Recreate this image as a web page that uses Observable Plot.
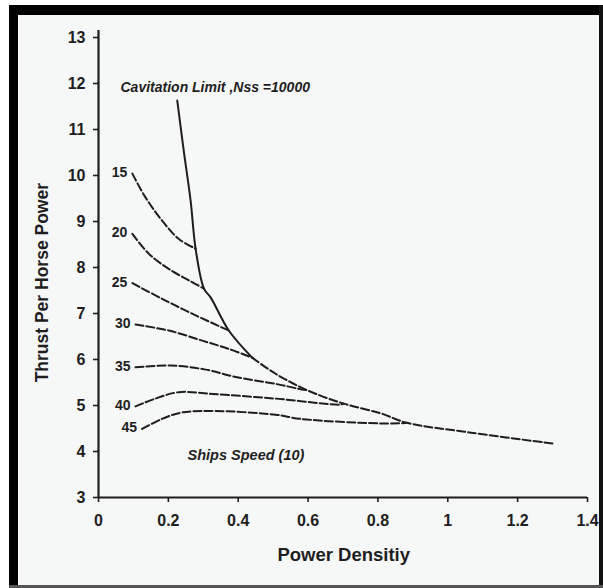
<!DOCTYPE html>
<html><head><meta charset="utf-8">
<script src="https://cdn.jsdelivr.net/npm/d3@7"></script>
<script src="https://cdn.jsdelivr.net/npm/@observablehq/plot@0.6"></script>
<style>
body{margin:0;background:#fff;}
</style></head><body>
<div id="chart"></div>
<script>
// Ship speed curves (knots): power density vs thrust per horse power
const speedLabels = [15, 20, 25, 30, 35, 40, 45];
const pd15 = [0.097, 0.134, 0.182, 0.230, 0.278];
const t15  = [10.04, 9.53, 9.02, 8.62, 8.41];
const pd20 = [0.097, 0.144, 0.201, 0.259, 0.302];
const t20  = [8.73, 8.30, 7.97, 7.72, 7.54];
const pd25 = [0.097, 0.182, 0.278, 0.373];
const t25  = [7.66, 7.32, 6.96, 6.63];
const pd30 = [0.106, 0.201, 0.297, 0.373, 0.440];
const t30  = [6.76, 6.63, 6.41, 6.23, 6.04];
const pd35 = [0.106, 0.206, 0.307, 0.393, 0.507, 0.569, 0.598];
const t35  = [5.83, 5.87, 5.78, 5.62, 5.47, 5.37, 5.33];
const pd40 = [0.106, 0.163, 0.230, 0.326, 0.507, 0.693, 0.702];
const t40  = [4.98, 5.15, 5.29, 5.25, 5.15, 5.02, 5.04];
const pd45 = [0.125, 0.182, 0.240, 0.335, 0.507, 0.577, 0.808, 0.880];
const t45  = [4.49, 4.71, 4.85, 4.88, 4.80, 4.71, 4.61, 4.62];
// Cavitation limit, Nss = 10000
const pdCav = [0.2255, 0.244, 0.2636, 0.278, 0.302, 0.321, 0.373, 0.440, 0.507, 0.598, 0.702, 0.808, 0.880, 1.066, 1.304];
const tCav  = [11.63, 10.54, 9.46, 8.41, 7.54, 7.35, 6.63, 6.04, 5.69, 5.33, 5.04, 4.83, 4.63, 4.41, 4.17];
// Axis ticks
const xTicks = [0, 0.2, 0.4, 0.6, 0.8, 1, 1.2, 1.4];
const yTicks = [3, 4, 5, 6, 7, 8, 9, 10, 11, 12, 13];
const cavSolidEnd = 0.44;

const pdAll = [pd15, pd20, pd25, pd30, pd35, pd40, pd45];
const tAll  = [t15, t20, t25, t30, t35, t40, t45];
const rows = speedLabels.flatMap((s, i) => pdAll[i].map((p, j) => ({speed: s, pd: p, t: tAll[i][j]})));
const firsts = speedLabels.map((s, i) => ({speed: String(s), pd: pdAll[i][0], t: tAll[i][0]}));
const cav = pdCav.map((p, j) => ({pd: p, t: tCav[j]}));
const cavSolid = cav.filter(d => d.pd <= cavSolidEnd);
const cavDash = cav.filter(d => d.pd >= cavSolidEnd);

const ink = "#1e1e1e";
const chart = Plot.plot({
  width: 603, height: 588,
  marginLeft: 98, marginRight: 16, marginTop: 37, marginBottom: 91,
  style: {fontFamily: "'Liberation Sans', Arial, sans-serif", fontWeight: "bold", color: ink, background: "#ffffff", overflow: "visible"},
  x: {domain: [0, 1.4]},
  y: {domain: [3, 13]},
  marks: [
    Plot.axisY({ticks: yTicks, tickSize: 5, tickPadding: 8, fontSize: 16, label: null, stroke: ink, strokeWidth: 1.6}),
    Plot.axisX({ticks: xTicks, tickSize: 5, tickPadding: 12, fontSize: 16, label: null, stroke: ink, strokeWidth: 1.6, tickFormat: d => String(d)}),
    Plot.ruleX([0], {y1: 3, y2: 13.15, stroke: ink, strokeWidth: 2.2}),
    Plot.ruleY([3], {x1: 0, x2: 1.4, stroke: ink, strokeWidth: 2.2}),
    Plot.line(rows, {x: "pd", y: "t", z: "speed", curve: "catmull-rom", stroke: ink, strokeWidth: 2, strokeDasharray: "8,3"}),
    Plot.line(cavSolid, {x: "pd", y: "t", curve: "catmull-rom", stroke: ink, strokeWidth: 2}),
    Plot.line(cavDash, {x: "pd", y: "t", curve: "catmull-rom", stroke: ink, strokeWidth: 2, strokeDasharray: "8,3"}),
    Plot.text(firsts, {x: "pd", y: "t", text: "speed", textAnchor: "end", dx: -5, dy: -1, fontSize: 14, fontWeight: "bold", fill: ink}),
    Plot.text(["Cavitation Limit ,Nss =10000"], {x: 0.063, y: 11.91, text: d => d, textAnchor: "start", fontSize: 14, fontStyle: "italic", fontWeight: "bold", fill: ink}),
    Plot.text(["Ships Speed (10)"], {x: 0.255, y: 3.91, text: d => d, textAnchor: "start", fontSize: 14.5, fontStyle: "italic", fontWeight: "bold", fill: ink}),
    Plot.text(["Power Densitiy"], {x: 0.702, y: 1.74, text: d => d, fontSize: 18.5, fontWeight: "bold", fill: ink}),
    Plot.text(["Thrust Per Horse Power"], {x: -0.16, y: 7.67, text: d => d, rotate: -90, fontSize: 17.5, fontWeight: "bold", fill: ink})
  ]
});
// decorative scan frame around the figure
const svg = d3.select(chart);
const deco = svg.insert("g", ":first-child");
deco.append("rect").attr("x", 9).attr("y", 5).attr("width", 594).attr("height", 583).attr("fill", "#f6f7f7");
const frame = svg.append("g");
frame.append("rect").attr("x", 9).attr("y", 5).attr("width", 594).attr("height", 10).attr("fill", "#000");
frame.append("rect").attr("x", 9).attr("y", 5).attr("width", 9).attr("height", 583).attr("fill", "#000");
frame.append("rect").attr("x", 599).attr("y", 5).attr("width", 4).attr("height", 583).attr("fill", "#111");
frame.append("rect").attr("x", 9).attr("y", 585).attr("width", 594).attr("height", 3).attr("fill", "#555");
document.getElementById("chart").appendChild(chart);
</script>
</body></html>
